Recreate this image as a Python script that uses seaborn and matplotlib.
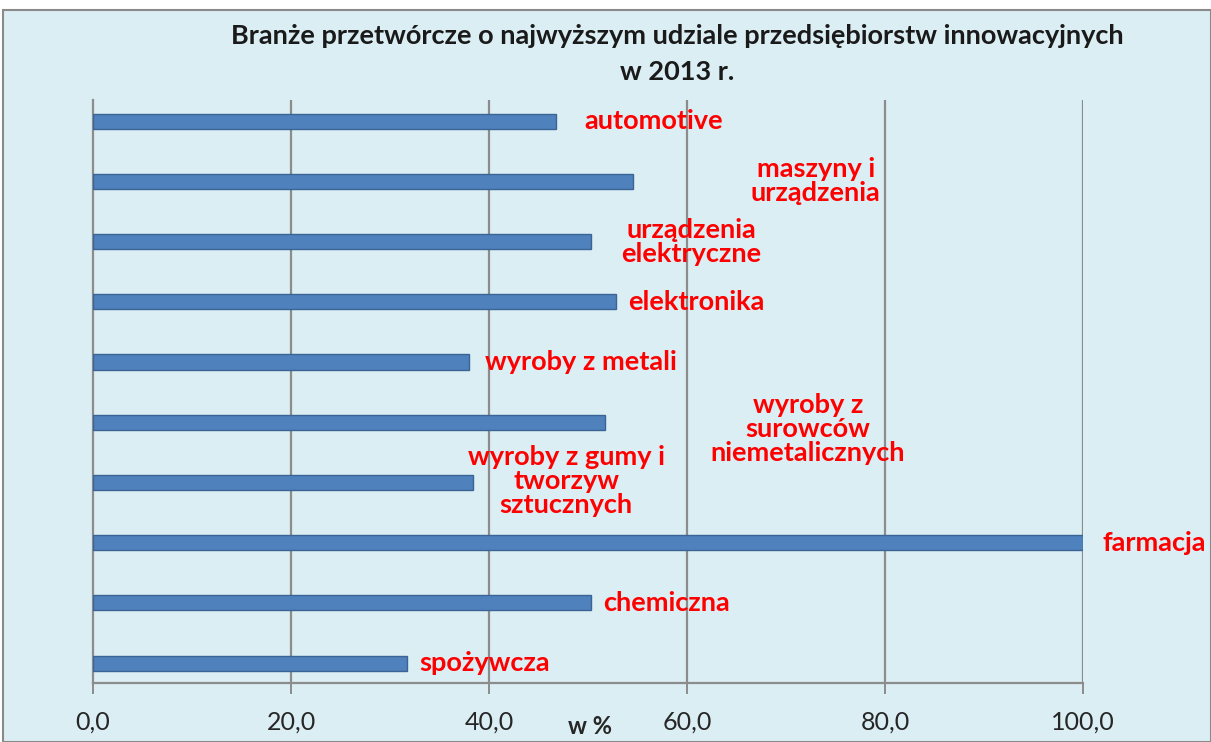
import matplotlib
matplotlib.use("Agg")
import matplotlib.pyplot as plt
import seaborn as sns
import pandas as pd
from matplotlib.patches import Rectangle

# ---- data ----
categories = ["automotive", "maszyny i\nurządzenia", "urządzenia\nelektryczne", "elektronika",
              "wyroby z metali", "wyroby z\nsurowców\nniemetalicznych",
              "wyroby z gumy i\ntworzyw\nsztucznych", "farmacja", "chemiczna", "spożywcza"]
values = [46.8, 54.5, 50.3, 52.8, 38.0, 51.7, 38.4, 100.0, 50.3, 31.7]
x_ticks = [0, 20, 40, 60, 80, 100]
x_tick_labels = ["0,0", "20,0", "40,0", "60,0", "80,0", "100,0"]
title = "Branże przetwórcze o najwyższym udziale przedsiębiorstw innowacyjnych\nw 2013 r."
x_label = "w %"

# ---- label placement (style only): x in data units, y offset in category units, alignment ----
label_pos = [(49.6, 0.0, "left"), (73.0, 0.0, "center"), (60.4, 0.0, "center"),
             (54.1, 0.0, "left"), (39.6, 0.0, "left"), (72.2, 0.12, "center"),
             (47.8, -0.02, "center"), (102.0, 0.0, "left"), (51.5, 0.0, "left"),
             (33.0, 0.0, "left")]

sns.set_theme(style="white")
plt.rcParams["font.family"] = ["Lato", "DejaVu Sans"]

bg = "#DBEEF4"
grid_c = "#8C8C8C"
bar_c = "#4F81BD"

fig = plt.figure(figsize=(12.11, 7.42), dpi=100, facecolor="white")
fig.patches.append(Rectangle((3 / 1211, 0), 1 - 3 / 1211, 1 - 10 / 742, transform=fig.transFigure,
                             facecolor=bg, edgecolor="#8A8A8A", linewidth=1.5, zorder=-10))

ax = fig.add_axes([93 / 1211, 1 - 683 / 742, (1083 - 93) / 1211, (683 - 100) / 742])
ax.set_facecolor("none")

df = pd.DataFrame({"kat": categories, "val": values})
sns.barplot(data=df, x="val", y="kat", orient="h", color=bar_c, width=0.25,
            saturation=1, edgecolor="#3A6396", linewidth=1.0, ax=ax, zorder=3)

ax.set_xlim(0, 100)
ax.set_ylim(9.33, -0.35)
for t in x_ticks[1:]:
    ax.axvline(t, color=grid_c, linewidth=1.6, zorder=1)
ax.set_xticks(x_ticks)
ax.set_xticklabels(x_tick_labels, fontsize=18)
ax.tick_params(axis="x", direction="out", length=8, width=1.4, color=grid_c, pad=12, bottom=True)
ax.set_yticks([])
ax.set_ylabel("")
ax.set_xlabel(x_label, fontsize=17, fontweight="bold")
ax.xaxis.set_label_coords((590 - 93) / (1083 - 93), -0.055)
for s in ["top", "right"]:
    ax.spines[s].set_visible(False)
for s in ["left", "bottom"]:
    ax.spines[s].set_color(grid_c)
    ax.spines[s].set_linewidth(1.6)

for i, (lbl, (lx, dy, ha)) in enumerate(zip(categories, label_pos)):
    ax.text(lx, i + dy, lbl, color="#FF0000", fontsize=19.5, fontweight="bold", ha=ha, va="center",
            linespacing=1.0, zorder=5, clip_on=False)

fig.text(677 / 1211, 1 - 54 / 742, title, ha="center", va="center", fontsize=19.5,
         fontweight="bold", color="#1A1A1A", linespacing=1.6)

fig.savefig("out.png", dpi=100, facecolor="white")
